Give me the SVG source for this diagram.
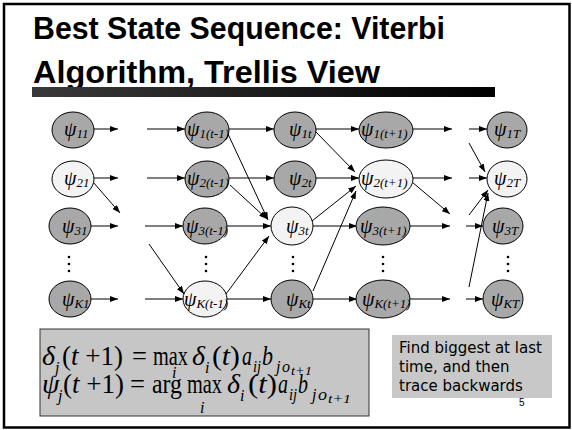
<svg xmlns="http://www.w3.org/2000/svg" width="572" height="430" viewBox="0 0 572 430">
<defs>
<linearGradient id="bar" x1="0" y1="0" x2="1" y2="0">
<stop offset="0" stop-color="#3a3a3a"/>
<stop offset="1" stop-color="#000"/>
</linearGradient>
<marker id="ah" markerWidth="8" markerHeight="6" refX="8" refY="3" orient="auto" markerUnits="userSpaceOnUse">
<path d="M0,0 L8,3 L0,6 z" fill="#000"/>
</marker>
<style>
.g{fill:#a8a8a8;stroke:#000;stroke-width:1}
.w{fill:#f3f3f3;stroke:#000;stroke-width:1}
.lb{font-family:"Liberation Serif","Times New Roman",serif;font-style:italic;font-size:20px;fill:#000}
.sb{font-size:13px}
.c line{stroke:#000;stroke-width:1;marker-end:url(#ah)}
.d circle{fill:#000}
.f{font-family:"Liberation Serif","Times New Roman",serif;font-size:28px;fill:#000}
.fi{font-style:italic}
.fs{font-family:"Liberation Serif","Times New Roman",serif;font-size:16px;font-style:italic;fill:#000}
.fss{font-family:"Liberation Serif","Times New Roman",serif;font-size:12px;font-style:italic;fill:#000}
.note{font-family:"DejaVu Sans",Verdana,sans-serif;font-size:15px;fill:#000}
</style>
</defs>
<rect x="4" y="4" width="565.5" height="423.5" fill="#fff" stroke="#000" stroke-width="2.5"/>
<g id="title" font-family="'Liberation Sans',Arial,sans-serif" font-weight="bold" font-size="31" fill="#000">
<text x="33" y="39" textLength="412" lengthAdjust="spacingAndGlyphs">Best State Sequence: Viterbi</text>
<text x="33" y="83" textLength="347" lengthAdjust="spacingAndGlyphs">Algorithm, Trellis View</text>
</g>
<rect x="32" y="87" width="463" height="10" fill="url(#bar)"/>

<g id="connectors" class="c">
<line x1="94" y1="129" x2="118" y2="129"/>
<line x1="147" y1="129" x2="185" y2="129"/>
<line x1="229" y1="129" x2="274" y2="129"/>
<line x1="316" y1="129" x2="359" y2="129"/>
<line x1="413" y1="129" x2="452" y2="129"/>
<line x1="469" y1="129" x2="487" y2="129"/>
<line x1="94" y1="178" x2="118" y2="178"/>
<line x1="147" y1="178" x2="185" y2="178"/>
<line x1="229" y1="178" x2="274" y2="178"/>
<line x1="316" y1="178" x2="359" y2="178"/>
<line x1="413" y1="178" x2="452" y2="178"/>
<line x1="469" y1="178" x2="487" y2="178"/>
<line x1="91" y1="226" x2="118" y2="226"/>
<line x1="145" y1="226" x2="183" y2="226"/>
<line x1="226" y1="226" x2="271" y2="226"/>
<line x1="313" y1="226" x2="357" y2="226"/>
<line x1="410" y1="226" x2="450" y2="226"/>
<line x1="466" y1="226" x2="483" y2="226"/>
<line x1="91" y1="299" x2="118" y2="299"/>
<line x1="145" y1="299" x2="183" y2="299"/>
<line x1="226" y1="299" x2="271" y2="299"/>
<line x1="313" y1="299" x2="357" y2="299"/>
<line x1="410" y1="299" x2="450" y2="299"/>
<line x1="466" y1="299" x2="483" y2="299"/>
<line x1="93" y1="182" x2="120" y2="213"/>
<line x1="149" y1="244" x2="184" y2="294"/>
<line x1="228" y1="134" x2="268" y2="220"/>
<line x1="230" y1="185" x2="267" y2="219"/>
<line x1="226" y1="294" x2="269" y2="236"/>
<line x1="315" y1="131" x2="355" y2="172"/>
<line x1="312" y1="221" x2="356" y2="186"/>
<line x1="313" y1="291" x2="356" y2="191"/>
<line x1="412" y1="182" x2="450" y2="214"/>
<line x1="469" y1="143" x2="485" y2="172"/>
<line x1="469" y1="215" x2="488" y2="190"/>
<line x1="469" y1="287" x2="488" y2="193"/>
</g>

<g id="n11"><ellipse class="g" cx="73" cy="130" rx="21" ry="18"/><text class="lb" x="64" y="136">ψ<tspan class="sb" dy="2">11</tspan></text></g>
<g id="n21"><ellipse class="w" cx="73" cy="179" rx="21" ry="18"/><text class="lb" x="64" y="185">ψ<tspan class="sb" dy="2">21</tspan></text></g>
<g id="n31"><ellipse class="g" cx="70" cy="226" rx="21" ry="18"/><text class="lb" x="62" y="233">ψ<tspan class="sb" dy="2">31</tspan></text></g>
<g id="nK1"><ellipse class="g" cx="70" cy="299" rx="21" ry="18"/><text class="lb" x="62" y="306">ψ<tspan class="sb" dy="2">K1</tspan></text></g>

<g id="n1tm1"><ellipse class="g" cx="207" cy="130" rx="22" ry="18"/><text class="lb" x="187" y="136">ψ<tspan class="sb" dy="2">1(t-1)</tspan></text></g>
<g id="n2tm1"><ellipse class="g" cx="207" cy="179" rx="22" ry="18"/><text class="lb" x="187" y="185">ψ<tspan class="sb" dy="2">2(t-1)</tspan></text></g>
<g id="n3tm1"><ellipse class="g" cx="205" cy="226" rx="22" ry="18"/><text class="lb" x="186" y="233">ψ<tspan class="sb" dy="2">3(t-1)</tspan></text></g>
<g id="nKtm1"><ellipse class="w" cx="205" cy="299" rx="22" ry="18"/><text class="lb" x="184" y="306">ψ<tspan class="sb" dy="2">K(t-1)</tspan></text></g>

<g id="n1t"><ellipse class="g" cx="295" cy="130" rx="21" ry="18"/><text class="lb" x="289" y="136">ψ<tspan class="sb" dy="2">1t</tspan></text></g>
<g id="n2t"><ellipse class="g" cx="295" cy="179" rx="21" ry="18"/><text class="lb" x="289" y="185">ψ<tspan class="sb" dy="2">2t</tspan></text></g>
<g id="n3t"><ellipse class="w" cx="292" cy="226" rx="21" ry="19"/><text class="lb" x="286" y="233">ψ<tspan class="sb" dy="2">3t</tspan></text></g>
<g id="nKt"><ellipse class="g" cx="292" cy="299" rx="21" ry="19"/><text class="lb" x="286" y="306">ψ<tspan class="sb" dy="2">Kt</tspan></text></g>

<g id="n1tp1"><ellipse class="g" cx="386" cy="130" rx="27" ry="18"/><text class="lb" x="361" y="136">ψ<tspan class="sb" dy="2">1(t+1)</tspan></text></g>
<g id="n2tp1"><ellipse class="w" cx="386" cy="179" rx="27" ry="19"/><text class="lb" x="361" y="185">ψ<tspan class="sb" dy="2">2(t+1)</tspan></text></g>
<g id="n3tp1"><ellipse class="g" cx="383" cy="226" rx="27" ry="19"/><text class="lb" x="360" y="233">ψ<tspan class="sb" dy="2">3(t+1)</tspan></text></g>
<g id="nKtp1"><ellipse class="g" cx="383" cy="299" rx="27" ry="19"/><text class="lb" x="362" y="306">ψ<tspan class="sb" dy="2">K(t+1)</tspan></text></g>

<g id="n1T"><ellipse class="g" cx="507" cy="130" rx="20" ry="18"/><text class="lb" x="494" y="136">ψ<tspan class="sb" dy="2">1T</tspan></text></g>
<g id="n2T"><ellipse class="w" cx="507" cy="179" rx="20" ry="18"/><text class="lb" x="494" y="185">ψ<tspan class="sb" dy="2">2T</tspan></text></g>
<g id="n3T"><ellipse class="g" cx="503" cy="226" rx="20" ry="18"/><text class="lb" x="492" y="233">ψ<tspan class="sb" dy="2">3T</tspan></text></g>
<g id="nKT"><ellipse class="g" cx="503" cy="299" rx="20" ry="19"/><text class="lb" x="491" y="306">ψ<tspan class="sb" dy="2">KT</tspan></text></g>

<g id="dots" class="d">
<circle cx="69" cy="257" r="1.3"/><circle cx="69" cy="264" r="1.3"/><circle cx="69" cy="271" r="1.3"/>
<circle cx="206" cy="257" r="1.3"/><circle cx="206" cy="264" r="1.3"/><circle cx="206" cy="271" r="1.3"/>
<circle cx="293" cy="257" r="1.3"/><circle cx="293" cy="264" r="1.3"/><circle cx="293" cy="271" r="1.3"/>
<circle cx="383" cy="257" r="1.3"/><circle cx="383" cy="264" r="1.3"/><circle cx="383" cy="271" r="1.3"/>
<circle cx="508" cy="257" r="1.3"/><circle cx="508" cy="264" r="1.3"/><circle cx="508" cy="271" r="1.3"/>
</g>

<g id="formula">
<rect x="40" y="329" width="329" height="87" fill="#c6c6c6" stroke="#333" stroke-width="1"/>
<text class="f fi" x="42" y="365">δ</text>
<text class="fs" x="55" y="373">j</text>
<text class="f" x="62" y="365" textLength="61" lengthAdjust="spacingAndGlyphs">(<tspan class="fi">t</tspan> +1)</text>
<text class="f" x="132" y="365" textLength="15" lengthAdjust="spacingAndGlyphs">=</text>
<text class="f" x="153" y="365" textLength="35" lengthAdjust="spacingAndGlyphs">max</text>
<text class="fs" x="172" y="378">i</text>
<text class="f fi" x="192" y="365" textLength="13" lengthAdjust="spacingAndGlyphs">δ</text>
<text class="fs" x="205" y="373">i</text>
<text class="f" x="212" y="365" textLength="28" lengthAdjust="spacingAndGlyphs">(<tspan class="fi">t</tspan>)</text>
<text class="f fi" x="242" y="365" textLength="10" lengthAdjust="spacingAndGlyphs">a</text>
<text class="fs" x="253" y="372" textLength="8" lengthAdjust="spacingAndGlyphs">ij</text>
<text class="f fi" x="262" y="365" textLength="11" lengthAdjust="spacingAndGlyphs">b</text>
<text class="fs" x="276" y="372">j</text>
<text class="fs" x="282" y="372" textLength="8" lengthAdjust="spacingAndGlyphs">o</text>
<text class="fss" x="291" y="375" textLength="21" lengthAdjust="spacingAndGlyphs">t+1</text>

<text class="f fi" x="42" y="393">ψ</text>
<text class="fs" x="58" y="401">j</text>
<text class="f" x="63" y="393" textLength="61" lengthAdjust="spacingAndGlyphs">(<tspan class="fi">t</tspan> +1)</text>
<text class="f" x="130" y="393" textLength="15" lengthAdjust="spacingAndGlyphs">=</text>
<text class="f" x="152" y="393" textLength="30" lengthAdjust="spacingAndGlyphs">arg</text>
<text class="f" x="187" y="393" textLength="35" lengthAdjust="spacingAndGlyphs">max</text>
<text class="fs" x="200" y="413">i</text>
<text class="f fi" x="227" y="393" textLength="13" lengthAdjust="spacingAndGlyphs">δ</text>
<text class="fs" x="240" y="401">i</text>
<text class="f" x="248" y="393" textLength="29" lengthAdjust="spacingAndGlyphs">(<tspan class="fi">t</tspan>)</text>
<text class="f fi" x="278" y="393" textLength="10" lengthAdjust="spacingAndGlyphs">a</text>
<text class="fs" x="289" y="400" textLength="8" lengthAdjust="spacingAndGlyphs">ij</text>
<text class="f fi" x="298" y="393" textLength="10" lengthAdjust="spacingAndGlyphs">b</text>
<text class="fs" x="312" y="400">j</text>
<text class="fs" x="318" y="400" textLength="9" lengthAdjust="spacingAndGlyphs">o</text>
<text class="fss" x="328" y="403" textLength="23" lengthAdjust="spacingAndGlyphs">t+1</text>
</g>

<g id="note">
<rect x="392" y="335" width="160" height="63" fill="#c8c8c8"/>
<text class="note" x="399" y="353">Find biggest at last</text>
<text class="note" x="399" y="372">time, and then</text>
<text class="note" x="399" y="391">trace backwards</text>
</g>
<text x="519" y="406" font-family="'Liberation Sans',Arial,sans-serif" font-size="10" fill="#000">5</text>
</svg>
